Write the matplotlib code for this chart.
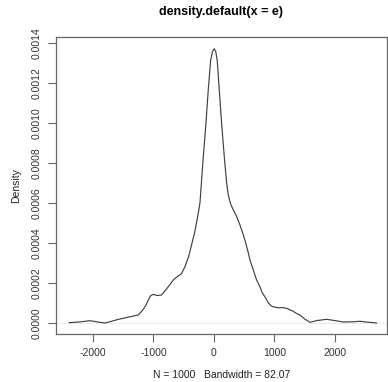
import numpy as np
import matplotlib
matplotlib.use('Agg')
import matplotlib.pyplot as plt

plt.rcParams['font.family'] = ['Liberation Sans', 'DejaVu Sans']

# Density estimate
x = [-2392, -2200, -2050, -1900, -1802, -1700, -1582, -1388, -1251, -1190,
     -1140, -1100, -1050, -1003, -940, -865, -810, -755, -672, -600,
     -540, -479, -420, -370, -320, -270, -231, -176, -132, -94,
     -55, -25, 5, 30, 55, 88, 127, 171, 210, 237,
     275, 319, 370, 430, 480, 512, 560, 595, 650, 705,
     760, 800, 843, 900, 950, 981, 1064, 1140, 1201, 1300,
     1380, 1421, 1500, 1587, 1700, 1862, 2000, 2137, 2300, 2413,
     2550, 2689]
dens = [0.0000015, 0.000006, 0.0000115, 0.000004, 0.0, 0.000008, 0.000018,
        0.000031, 0.00004, 0.00006,
        0.000081, 0.000105, 0.000135, 0.000143, 0.000137, 0.00014, 0.00016,
        0.000181, 0.000215, 0.000233,
        0.000245, 0.000281, 0.00033, 0.00039, 0.00045, 0.00053, 0.0006,
        0.00083, 0.000997, 0.001164,
        0.00131, 0.001355, 0.00137, 0.001355, 0.00131, 0.001164, 0.000997,
        0.00083, 0.0007, 0.00064,
        0.000595, 0.000565, 0.000535, 0.00049, 0.000445, 0.000414, 0.00036,
        0.000315, 0.000265, 0.000215,
        0.000181, 0.00015, 0.000131, 0.0001, 0.000085, 0.000081, 0.000076,
        0.000077, 0.000073, 0.00006,
        0.000045, 0.00004, 0.00002, 0.0000035, 0.000012, 0.0000185, 0.000012,
        0.000005, 0.000006, 0.0000085,
        0.000004, 0.0]

xticks = [-2000, -1000, 0, 1000, 2000]
yticks = [0.0000, 0.0002, 0.0004, 0.0006, 0.0008, 0.0010, 0.0012, 0.0014]

fig = plt.figure(figsize=(3.88, 3.82), dpi=100)
ax = fig.add_axes([0.1443, 0.1257, 0.853, 0.7767])

# light zero line, as R draws under a density curve
ax.axhline(0, color='#e6e6e6', lw=0.6, zorder=1)
ax.plot(x, dens, color='#404040', lw=0.85, zorder=2)

ax.set_xlim(-2611, 2860)
ax.set_ylim(-0.0000549, 0.001427)

ax.set_xticks(xticks)
ax.set_xticklabels([str(t) for t in xticks])
ax.set_yticks(yticks)
ax.set_yticklabels(['%.4f' % t for t in yticks], rotation=90, va='center')

for s in ax.spines.values():
    s.set_color('#666666')
    s.set_linewidth(0.9)
ax.tick_params(direction='out', length=6, width=0.8, color='#666666',
               labelsize=7.5, labelcolor='#333333', pad=4)

ax.set_title('density.default(x = e)', fontsize=9, fontweight='bold', pad=16)
ax.set_xlabel('N = 1000   Bandwidth = 82.07', fontsize=7.5, labelpad=9,
              color='#222222')
ax.set_ylabel('Density', fontsize=7.5, labelpad=8, color='#222222')

fig.savefig('out.png', dpi=100)
